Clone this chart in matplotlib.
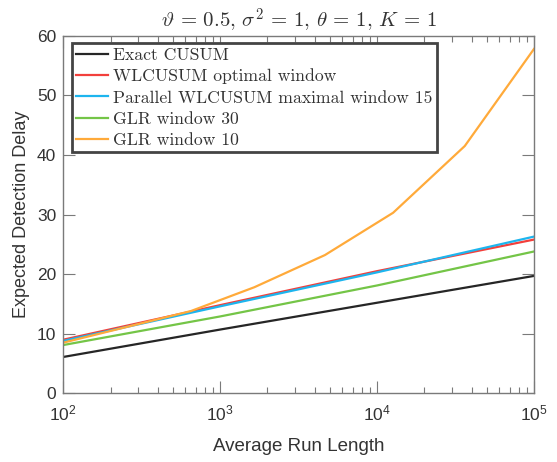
import matplotlib
matplotlib.use("Agg")
import matplotlib.pyplot as plt
from matplotlib.ticker import LogLocator, NullFormatter, FixedLocator

plt.rcParams['mathtext.fontset'] = 'custom'
plt.rcParams['mathtext.rm'] = 'Liberation Sans'
plt.rcParams['mathtext.it'] = 'Liberation Sans:italic'
plt.rcParams['font.family'] = ['Liberation Sans', 'DejaVu Sans']

# ---- data ----
arl_grid = [100, 1000, 10000, 100000]
exact_cusum = [6.1, 10.7, 15.2, 19.7]
wlcusum_opt = [9.0, 14.8, 20.5, 25.8]
parallel_wlcusum = [8.8, 14.6, 20.3, 26.3]
glr30 = [8.1, 12.9, 18.1, 23.8]
glr10_arl = [100, 650, 1650, 4650, 12650, 36200, 100000]
glr10 = [8.5, 13.8, 17.8, 23.2, 30.3, 41.5, 57.8]

labels = ["Exact CUSUM", "WLCUSUM optimal window",
          "Parallel WLCUSUM maximal window 15", "GLR window 30", "GLR window 10"]
colors = ["#262626", "#f2403c", "#1db5ee", "#74c547", "#ffaa3a"]
yticks = [0, 10, 20, 30, 40, 50, 60]
xticks = [1e2, 1e3, 1e4, 1e5]

fig = plt.figure(figsize=(5.57, 4.62), dpi=100)
ax = fig.add_axes([63.3/557, 1-393.3/462, (534-63.3)/557, (393.3-35.8)/462])

series = [(arl_grid, exact_cusum), (arl_grid, wlcusum_opt), (arl_grid, parallel_wlcusum),
          (arl_grid, glr30), (glr10_arl, glr10)]
for (xs, ys), lab, c in zip(series, labels, colors):
    ax.plot(xs, ys, color=c, lw=1.6, label=lab)

ax.set_xscale('log')
ax.set_xlim(1e2, 1e5)
ax.set_ylim(0, 60)
ax.yaxis.set_major_locator(FixedLocator(yticks))
ax.xaxis.set_major_locator(FixedLocator(xticks))
ax.xaxis.set_minor_locator(LogLocator(base=10, subs=range(2, 10)))
ax.xaxis.set_minor_formatter(NullFormatter())

axcol = '#7a7a7a'
for s in ax.spines.values():
    s.set_color(axcol)
    s.set_linewidth(1.0)
ax.tick_params(which='both', direction='in', top=True, right=True, colors=axcol,
               labelcolor='#333333', labelsize=12.5)
ax.tick_params(which='major', length=8.5, width=0.8)
ax.tick_params(which='minor', length=4.5, width=0.8)
ax.tick_params(axis='x', pad=7)
ax.tick_params(axis='y', pad=5)

ax.set_xlabel("Average Run Length", fontsize=13.5, color='#333333', labelpad=11)
ax.set_ylabel("Expected Detection Delay", fontsize=13, color='#333333', labelpad=5)
ax.set_title(r"$\vartheta\,=\,0.5,\, \sigma^2\,=\,1,\, \theta\,=\,1,\, K\,=\,1$", fontsize=15,
             math_fontfamily='cm', color='#333333', pad=6)

leg = ax.legend(loc='upper left', bbox_to_anchor=(0.0185, 0.98), borderaxespad=0,
                prop={'family': 'cmr10', 'size': 12.7}, frameon=True, fancybox=False,
                handlelength=1.8, handletextpad=0.3, labelspacing=0.33,
                borderpad=0.25, framealpha=1)
leg.get_frame().set_edgecolor('#444444')
leg.get_frame().set_linewidth(2.0)
for t in leg.get_texts():
    t.set_color('#333333')

fig.savefig("out.png", dpi=100)
